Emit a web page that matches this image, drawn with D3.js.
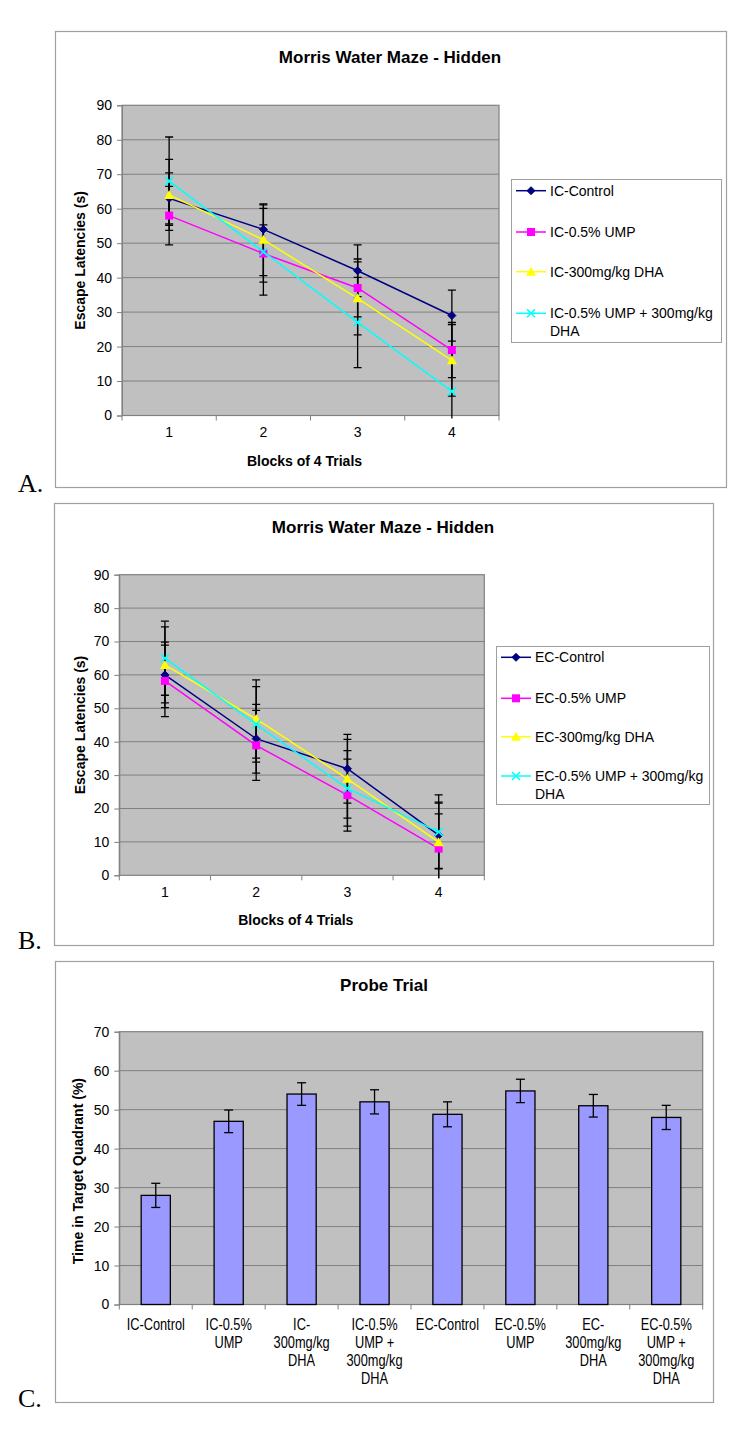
<!DOCTYPE html>
<html>
<head>
<meta charset="utf-8">
<script src="https://cdnjs.cloudflare.com/ajax/libs/d3/7.8.5/d3.min.js"></script>
<style>
  body { margin: 0; background: #fff; }
  svg { display: block; }
  text { font-family: Arial, "Liberation Sans", sans-serif; fill: #000; }
</style>
</head>
<body>
<svg id="chart" width="750" height="1443"></svg>
<script>
// ---------------- DATA ----------------
const blocks = [1, 2, 3, 4];
const yTicksHidden = [0, 10, 20, 30, 40, 50, 60, 70, 80, 90];

const icNames = ["IC-Control", "IC-0.5% UMP", "IC-300mg/kg DHA", "IC-0.5% UMP + 300mg/kg DHA"];
const icControl = [63, 54, 42, 29];
const icControlErr = [7.4, 7.1, 7.5, 7.4];
const icUMP = [58, 47, 37, 19];
const icUMPErr = [8.5, 8.3, 8.4, 8.0];
const icDHA = [64, 51, 34, 16];
const icDHAErr = [10.3, 10.4, 10.6, 10.4];
const icCombo = [68, 47.5, 27, 7];
const icComboErr = [12.8, 12.6, 13.1, 13.0];

const ecNames = ["EC-Control", "EC-0.5% UMP", "EC-300mg/kg DHA", "EC-0.5% UMP + 300mg/kg DHA"];
const ecControl = [60, 40.9, 31.9, 12];
const ecControlErr = [9.8, 10.3, 10.3, 9.9];
const ecUMP = [58.2, 38.9, 24, 8];
const ecUMPErr = [10.7, 10.5, 10.8, 10.4];
const ecDHA = [63, 46.8, 28.9, 9.9];
const ecDHAErr = [11.4, 11.7, 11.8, 11.7];
const ecCombo = [65, 45.2, 26, 13];
const ecComboErr = [11.1, 11.3, 11.3, 11.1];

const probeCategories = ["IC-Control", "IC-0.5% UMP", "IC-300mg/kg DHA", "IC-0.5% UMP + 300mg/kg DHA",
                         "EC-Control", "EC-0.5% UMP", "EC-300mg/kg DHA", "EC-0.5% UMP + 300mg/kg DHA"];
const probeTickLines = [["IC-Control"], ["IC-0.5%", "UMP"], ["IC-", "300mg/kg", "DHA"], ["IC-0.5%", "UMP +", "300mg/kg", "DHA"],
                        ["EC-Control"], ["EC-0.5%", "UMP"], ["EC-", "300mg/kg", "DHA"], ["EC-0.5%", "UMP +", "300mg/kg", "DHA"]];
const probeValues = [28, 47, 54, 52, 48.8, 54.8, 51, 48];
const probeErr = [3.1, 2.9, 2.9, 3.1, 3.2, 3.0, 2.9, 3.1];
const yTicksProbe = [0, 10, 20, 30, 40, 50, 60, 70];

// ---------------- STYLE ----------------
const seriesColors = ["#000080", "#FF00FF", "#FFFF00", "#00FFFF"];
const seriesShapes = ["diamond", "square", "triangle", "x"];
const PLOT_BG = "#C0C0C0", GRID = "#808080", FRAME = "#A0A0A0";

const svg = d3.select("#chart");

function marker(g, shape, color, x, y) {
  if (shape === "diamond") {
    g.append("path").attr("d", `M${x},${y-4}L${x+4},${y}L${x},${y+4}L${x-4},${y}Z`).attr("fill", color).attr("stroke", color);
  } else if (shape === "square") {
    g.append("rect").attr("x", x-4).attr("y", y-4).attr("width", 8).attr("height", 8).attr("fill", color);
  } else if (shape === "triangle") {
    g.append("path").attr("d", `M${x},${y-5}L${x+5},${y+4}L${x-5},${y+4}Z`).attr("fill", color);
  } else {
    g.append("path").attr("d", `M${x-4},${y-4}L${x+4},${y+4}M${x-4},${y+4}L${x+4},${y-4}`).attr("stroke", color).attr("stroke-width", 1.6).attr("fill", "none");
  }
}

function frameAndLabel(f, letter, letterY) {
  svg.append("rect").attr("x", f.x + 0.5).attr("y", f.y + 0.5).attr("width", f.w).attr("height", f.h)
    .attr("fill", "#fff").attr("stroke", FRAME).attr("stroke-width", 1.2);
  svg.append("text").attr("x", 18).attr("y", letterY).text(letter)
    .style("font-family", "'Liberation Serif', 'Times New Roman', serif").style("font-size", "26px");
}

function plotBase(p, y, ticks, id) {
  const g = svg.append("g");
  g.append("rect").attr("x", p.x).attr("y", p.y).attr("width", p.w).attr("height", p.h).attr("fill", PLOT_BG);
  ticks.forEach(t => {
    if (t > ticks[0] && t < ticks[ticks.length - 1]) {
      g.append("line").attr("x1", p.x).attr("x2", p.x + p.w).attr("y1", y(t)).attr("y2", y(t))
        .attr("stroke", GRID).attr("stroke-width", 1);
    }
  });
  g.append("rect").attr("x", p.x).attr("y", p.y).attr("width", p.w).attr("height", p.h)
    .attr("fill", "none").attr("stroke", GRID).attr("stroke-width", 1.2);
  const ax = d3.axisLeft(y).tickValues(ticks).tickSize(5).tickPadding(5).tickFormat(d3.format("d"));
  const ga = svg.append("g").attr("transform", `translate(${p.x},0)`).call(ax);
  ga.select(".domain").attr("stroke", GRID);
  ga.selectAll(".tick line").attr("stroke", GRID);
  ga.selectAll(".tick text").style("font-size", "14px").style("font-family", "Arial, 'Liberation Sans', sans-serif").attr("fill", "#000");
  svg.append("clipPath").attr("id", id).append("rect").attr("x", p.x).attr("y", p.y).attr("width", p.w).attr("height", p.h + 3);
  return g;
}

function linePanel(cfg) {
  const p = cfg.plot;
  frameAndLabel(cfg.frame, cfg.letter, cfg.letterY);
  const x = d3.scaleBand().domain(blocks).range([p.x, p.x + p.w]);
  const y = d3.scaleLinear().domain([0, 90]).range([p.y + p.h, p.y]);
  plotBase(p, y, yTicksHidden, cfg.id);

  const xa = d3.axisBottom(x).tickSize(0).tickPadding(12);
  const gx = svg.append("g").attr("transform", `translate(0,${p.y + p.h})`).call(xa);
  gx.select(".domain").remove();
  gx.selectAll(".tick text").style("font-size", "14px").style("font-family", "Arial, 'Liberation Sans', sans-serif").attr("fill", "#000");
  const bounds = blocks.map(b => x(b)).concat([x(blocks[blocks.length - 1]) + x.bandwidth()]);
  svg.append("g").selectAll("line").data(bounds).join("line")
    .attr("x1", d => d).attr("x2", d => d).attr("y1", p.y + p.h).attr("y2", p.y + p.h + 5)
    .attr("stroke", GRID);

  svg.append("text").attr("x", cfg.titleX).attr("y", cfg.titleY).attr("text-anchor", "middle")
    .style("font-weight", "bold").style("font-size", "17px").text("Morris Water Maze - Hidden");
  svg.append("text").attr("x", p.x + p.w / 2 - 6).attr("y", p.y + p.h + 50).attr("text-anchor", "middle")
    .style("font-weight", "bold").style("font-size", "14px").text("Blocks of 4 Trials");
  svg.append("text").attr("transform", `translate(85,${p.y + p.h / 2}) rotate(-90)`).attr("text-anchor", "middle")
    .style("font-weight", "bold").style("font-size", "14px").text("Escape Latencies (s)");

  const cx = b => x(b) + x.bandwidth() / 2;
  const data = cfg.series;
  const gs = svg.append("g").attr("clip-path", `url(#${cfg.id})`);
  data.forEach(s => {
    blocks.forEach((b, i) => {
      const hi = s.values[i] + s.err[i], lo = s.values[i] - s.err[i];
      gs.append("line").attr("x1", cx(b)).attr("x2", cx(b)).attr("y1", y(hi)).attr("y2", y(lo))
        .attr("stroke", "#000").attr("stroke-width", 1.3);
      [hi, lo].forEach(v => gs.append("line").attr("x1", cx(b) - 4).attr("x2", cx(b) + 4)
        .attr("y1", y(v)).attr("y2", y(v)).attr("stroke", "#000").attr("stroke-width", 1.3));
    });
  });
  data.forEach((s, k) => {
    const line = d3.line().x((d, i) => cx(blocks[i])).y(d => y(d));
    gs.append("path").attr("d", line(s.values)).attr("fill", "none").attr("stroke", seriesColors[k]).attr("stroke-width", 1.5);
    s.values.forEach((v, i) => marker(gs, seriesShapes[k], seriesColors[k], cx(blocks[i]), y(v)));
  });

  const L = cfg.legend;
  svg.append("rect").attr("x", L.x + 0.5).attr("y", L.y + 0.5).attr("width", L.w).attr("height", L.h)
    .attr("fill", "#fff").attr("stroke", "#A0A0A0");
  cfg.names.forEach((n, k) => {
    const ly = L.rows[k];
    svg.append("line").attr("x1", L.x + 5).attr("x2", L.x + 35).attr("y1", ly).attr("y2", ly)
      .attr("stroke", seriesColors[k]).attr("stroke-width", 1.5);
    marker(svg, seriesShapes[k], seriesColors[k], L.x + 20, ly);
    const parts = n.indexOf("+ 300mg/kg DHA") >= 0 ? [n.replace(" DHA", ""), "DHA"] : [n];
    parts.forEach((t, j) => svg.append("text").attr("x", L.x + 39).attr("y", ly + 5 + j * 18)
      .style("font-size", "14px").text(t));
  });
}

linePanel({
  id: "clipA", letter: "A.", letterY: 492,
  frame: { x: 55, y: 31, w: 671, h: 456 },
  plot: { x: 122, y: 105.3, w: 377, h: 310.2 },
  titleX: 390, titleY: 63,
  names: icNames,
  series: [
    { values: icControl, err: icControlErr },
    { values: icUMP, err: icUMPErr },
    { values: icDHA, err: icDHAErr },
    { values: icCombo, err: icComboErr }
  ],
  legend: { x: 511, y: 179, w: 210, h: 163, rows: [190.7, 232, 271.7, 313.3] }
});

linePanel({
  id: "clipB", letter: "B.", letterY: 949,
  frame: { x: 54, y: 503, w: 659, h: 442 },
  plot: { x: 119.3, y: 574.7, w: 365, h: 300.6 },
  titleX: 383, titleY: 533,
  names: ecNames,
  series: [
    { values: ecControl, err: ecControlErr },
    { values: ecUMP, err: ecUMPErr },
    { values: ecDHA, err: ecDHAErr },
    { values: ecCombo, err: ecComboErr }
  ],
  legend: { x: 496, y: 646, w: 213, h: 158, rows: [657.3, 698.3, 736.7, 776] }
});

// ---------------- PANEL C ----------------
(function () {
  const f = { x: 55, y: 961, w: 658, h: 441 };
  const p = { x: 119.3, y: 1031.7, w: 583.4, h: 272.8 };
  frameAndLabel(f, "C.", 1407);
  const x = d3.scaleBand().domain(probeCategories).range([p.x, p.x + p.w]).paddingInner(0).paddingOuter(0);
  const y = d3.scaleLinear().domain([0, 70]).range([p.y + p.h, p.y]);
  plotBase(p, y, yTicksProbe, "clipC");
  const bw = x.bandwidth() * 0.4;
  const cx = c => x(c) + x.bandwidth() / 2;

  svg.append("g").selectAll("rect").data(probeCategories).join("rect")
    .attr("x", (c) => cx(c) - bw / 2).attr("width", bw)
    .attr("y", (c, i) => y(probeValues[i])).attr("height", (c, i) => y(0) - y(probeValues[i]))
    .attr("fill", "#9999FF").attr("stroke", "#000").attr("stroke-width", 1.3);

  const ge = svg.append("g");
  probeCategories.forEach((c, i) => {
    const hi = probeValues[i] + probeErr[i], lo = probeValues[i] - probeErr[i];
    ge.append("line").attr("x1", cx(c)).attr("x2", cx(c)).attr("y1", y(hi)).attr("y2", y(lo)).attr("stroke", "#000").attr("stroke-width", 1.3);
    [hi, lo].forEach(v => ge.append("line").attr("x1", cx(c) - 4.5).attr("x2", cx(c) + 4.5).attr("y1", y(v)).attr("y2", y(v)).attr("stroke", "#000").attr("stroke-width", 1.3));
  });

  const bounds = probeCategories.map(c => x(c)).concat([p.x + p.w]);
  svg.append("g").selectAll("line").data(bounds).join("line")
    .attr("x1", d => d).attr("x2", d => d).attr("y1", p.y + p.h).attr("y2", p.y + p.h + 5).attr("stroke", GRID);

  // multi-line tick labels, horizontally condensed like the original narrow font
  const gl = svg.append("g");
  probeCategories.forEach((c, i) => {
    probeTickLines[i].forEach((t, j) => {
      gl.append("text").attr("transform", `translate(${cx(c)},${1330 + j * 18}) scale(0.8,1)`)
        .attr("text-anchor", "middle").style("font-size", "16px").text(t);
    });
  });

  svg.append("text").attr("x", 384).attr("y", 991).attr("text-anchor", "middle")
    .style("font-weight", "bold").style("font-size", "17px").text("Probe Trial");
  svg.append("text").attr("transform", `translate(83,${p.y + p.h / 2 + 3}) rotate(-90)`).attr("text-anchor", "middle")
    .style("font-weight", "bold").style("font-size", "14px").text("Time in Target Quadrant (%)");
})();
</script>
</body>
</html>
